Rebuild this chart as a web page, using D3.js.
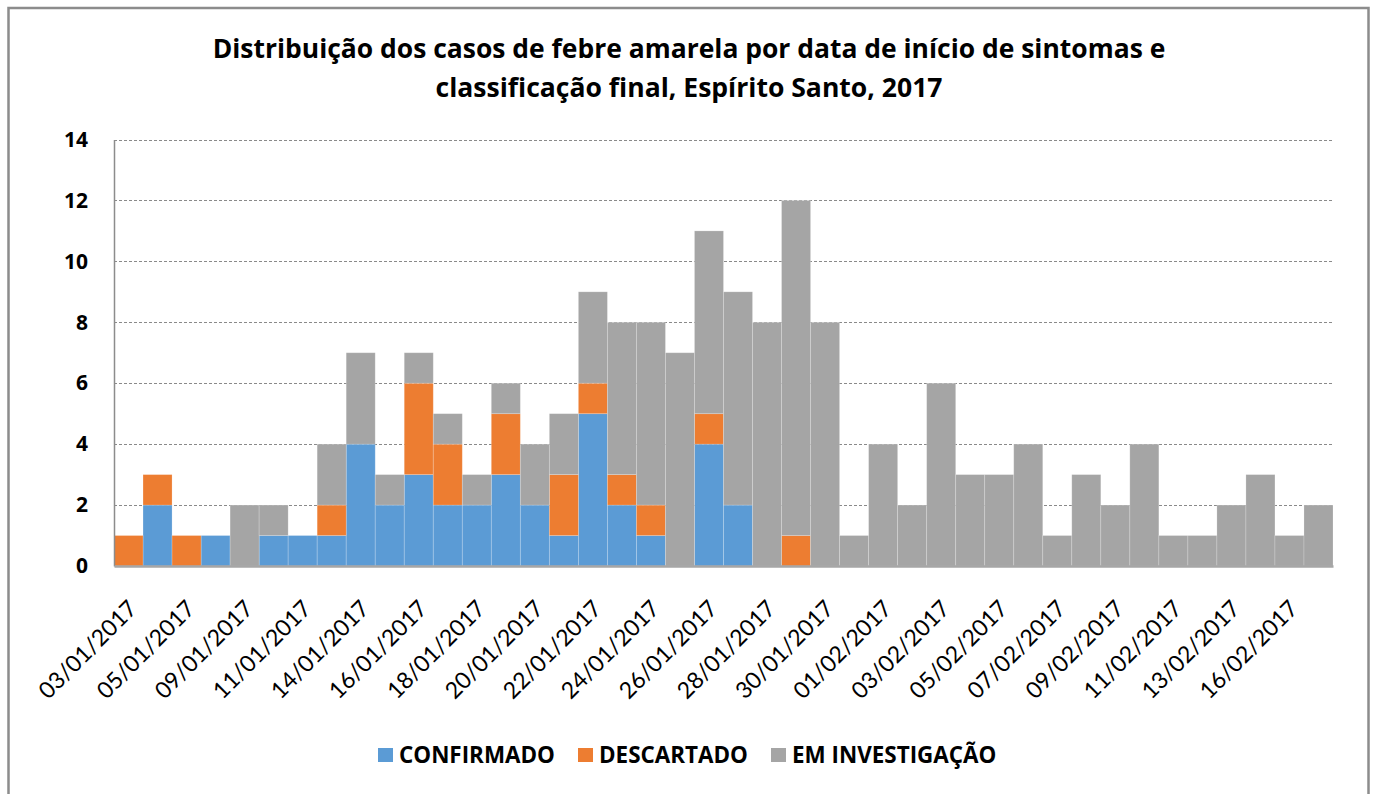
<!DOCTYPE html>
<html>
<head>
<meta charset="utf-8">
<script src="https://cdn.jsdelivr.net/npm/d3@7"></script>
<style>
  body { margin: 0; background: #fff; }
  svg { display: block; font-family: Lato, "Open Sans", sans-serif; }
</style>
</head>
<body>
<svg id="chart" width="1375" height="794"></svg>
<script>
// dates (only every second one is labelled on the axis)
var dates = ['03/01/2017','04/01/2017','05/01/2017','07/01/2017','09/01/2017','10/01/2017',
  '11/01/2017','13/01/2017','14/01/2017','15/01/2017','16/01/2017','17/01/2017',
  '18/01/2017','19/01/2017','20/01/2017','21/01/2017','22/01/2017','23/01/2017',
  '24/01/2017','25/01/2017','26/01/2017','27/01/2017','28/01/2017','29/01/2017',
  '30/01/2017','31/01/2017','01/02/2017','02/02/2017','03/02/2017','04/02/2017',
  '05/02/2017','06/02/2017','07/02/2017','08/02/2017','09/02/2017','10/02/2017',
  '11/02/2017','12/02/2017','13/02/2017','15/02/2017','16/02/2017','17/02/2017'];

var confirmado   = [0,2,0,1,0,1,1,1,4,2,3,2,2,3,2,1,5,2,1,0,4,2,0,0,0,0,0,0,0,0,0,0,0,0,0,0,0,0,0,0,0,0];
var descartado   = [1,1,1,0,0,0,0,1,0,0,3,2,0,2,0,2,1,1,1,0,1,0,0,1,0,0,0,0,0,0,0,0,0,0,0,0,0,0,0,0,0,0];
var investigacao = [0,0,0,0,2,1,0,2,3,1,1,1,1,1,2,2,3,5,6,7,6,7,8,11,8,1,4,2,6,3,3,4,1,3,2,4,1,1,2,3,1,2];

var seriesNames = ['CONFIRMADO', 'DESCARTADO', 'EM INVESTIGAÇÃO'];
var colours = ['#5b9bd5', '#ed7d31', '#a5a5a5'];
var yTicks = [0, 2, 4, 6, 8, 10, 12, 14];

var rows = dates.map(function(d, i) {
  return { date: d, 'CONFIRMADO': confirmado[i], 'DESCARTADO': descartado[i], 'EM INVESTIGAÇÃO': investigacao[i] };
});

// squeeze/stretch a text to a width (no Calibri here)
function fitWidth(node, target) {
  var size = parseFloat(d3.select(node).attr('font-size'));
  var w = node.getComputedTextLength();
  var s = size * target / w;
  d3.select(node).attr('font-size', s.toFixed(2));
  return s;
}

var svg = d3.select('#chart');
var plotLeft = 114, plotRight = 1333, plotTop = 139.5, plotBottom = 566;

// outer frame
svg.append('rect')
   .attr('x', 8.5).attr('y', 8)
   .attr('width', 1360).attr('height', 820)
   .attr('fill', 'none').attr('stroke', '#8c8c8c').attr('stroke-width', 2.5);

// title
var titleLines = ['Distribuição dos casos de febre amarela por data de início de sintomas e',
                  'classificação final, Espírito Santo, 2017'];
var titleWidths = [953, 507];
svg.append('g').selectAll('text')
   .data(titleLines)
   .enter().append('text')
   .attr('x', 689)
   .attr('y', function(d, i) { return 58 + i * 39; })
   .attr('text-anchor', 'middle')
   .attr('font-family', '"Open Sans", sans-serif')
   .attr('font-weight', 'bold')
   .attr('font-size', 24)
   .attr('fill', '#000')
   .text(function(d) { return d; })
   .each(function(d, i) { fitWidth(this, titleWidths[i]); });

var x = d3.scaleBand().domain(dates).range([plotLeft, plotRight]).padding(0);
var y = d3.scaleLinear().domain([0, 14]).range([plotBottom, plotTop]);

// gridlines
svg.append('g')
   .selectAll('line')
   .data(yTicks.filter(function(t) { return t > 0; }))
   .enter().append('line')
   .attr('x1', plotLeft).attr('x2', plotRight)
   .attr('y1', function(d) { return Math.round(y(d)) + 0.5; })
   .attr('y2', function(d) { return Math.round(y(d)) + 0.5; })
   .attr('stroke', '#8a8a8a')
   .attr('stroke-width', 1)
   .attr('stroke-dasharray', '3,2');

var stacked = d3.stack().keys(seriesNames)(rows);

svg.append('g')
   .selectAll('g')
   .data(stacked)
   .enter().append('g')
   .attr('fill', function(d, i) { return colours[i]; })
   .selectAll('rect')
   .data(function(d) { return d.filter(function(p) { return p[1] > p[0]; }); })
   .enter().append('rect')
   .attr('x', function(d) { return x(d.data.date); })
   .attr('y', function(d) { return y(d[1]); })
   .attr('width', x.bandwidth())
   .attr('height', function(d) { return y(d[0]) - y(d[1]); })
   .attr('stroke', '#ffffff')
   .attr('stroke-opacity', 0.25)
   .attr('stroke-width', 0.8);

// y axis
var yAxis = svg.append('g')
   .attr('transform', 'translate(' + plotLeft + ',0)')
   .call(d3.axisLeft(y).tickValues(yTicks).tickSize(0).tickPadding(26));
yAxis.select('.domain').attr('stroke', '#8c8c8c').attr('stroke-width', 1.5);
yAxis.selectAll('text')
   .attr('font-family', '"Open Sans", sans-serif')
   .attr('font-size', 21).attr('font-weight', 'bold').attr('fill', '#000');

// x axis
var xAxis = svg.append('g')
   .attr('transform', 'translate(0,' + plotBottom + ')')
   .call(d3.axisBottom(x)
      .tickValues(dates.filter(function(d, i) { return i % 2 === 0; }))
      .tickSize(0).tickSizeOuter(0));
xAxis.select('.domain').attr('stroke', '#a6a6a6').attr('stroke-width', 2.5);
xAxis.selectAll('text')
   .attr('font-family', 'Lato, sans-serif')
   .attr('font-size', 23).attr('fill', '#000')
   .attr('text-anchor', 'end')
   .attr('dy', null).attr('y', 0)
   .attr('transform', 'translate(10,44) rotate(-45)');

// legend
var legendX = [378, 578, 771];
var legend = svg.append('g').selectAll('g')
   .data(seriesNames)
   .enter().append('g')
   .attr('transform', function(d, i) { return 'translate(' + legendX[i] + ',748)'; });
legend.append('rect')
   .attr('width', 15).attr('height', 14)
   .attr('fill', function(d, i) { return colours[i]; });
var legendText = legend.append('text')
   .attr('x', 21).attr('y', 14.5)
   .attr('font-family', '"Open Sans", sans-serif')
   .attr('font-size', 20).attr('font-weight', 'bold')
   .text(function(d) { return d; });
var legendSize = fitWidth(legendText.node(), 156);
legendText.attr('font-size', legendSize.toFixed(2));
</script>
</body>
</html>
